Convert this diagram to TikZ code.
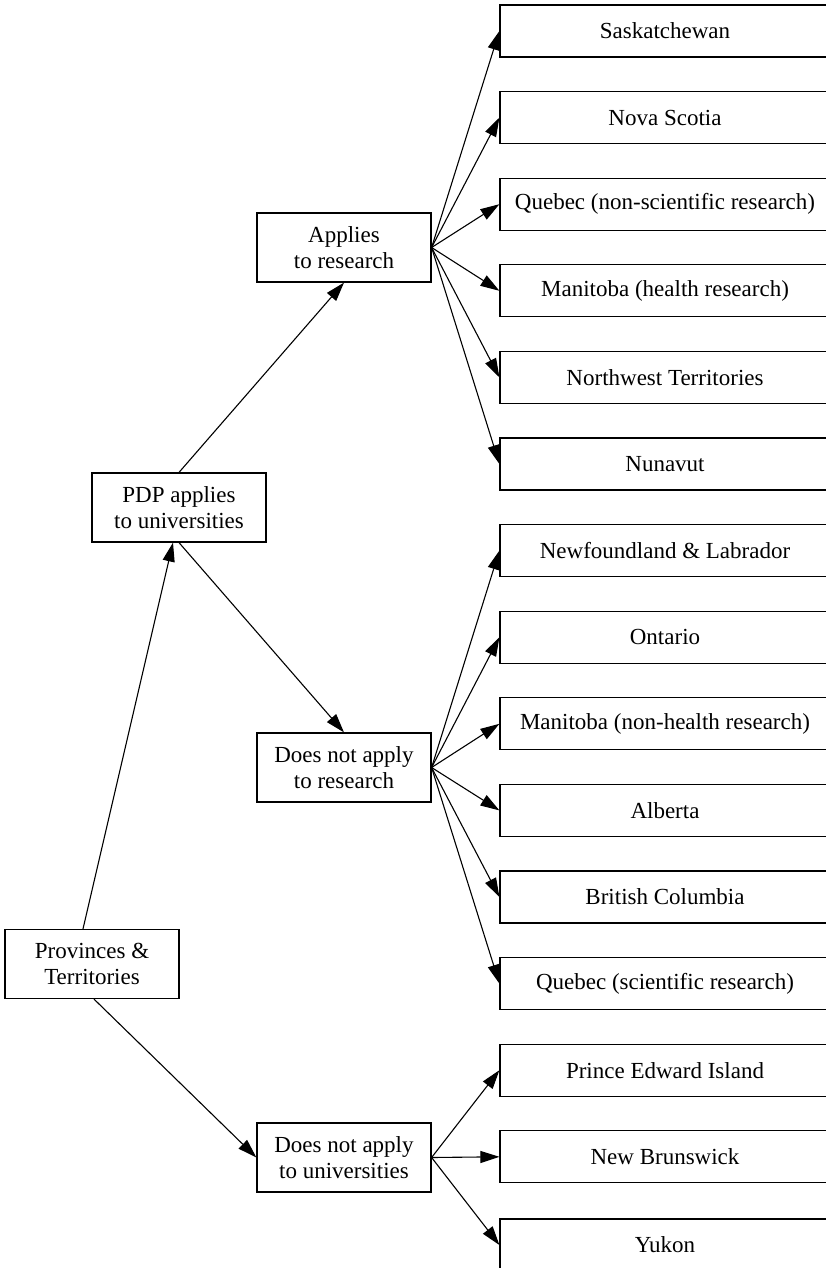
\documentclass[tikz,border=0pt]{standalone}
\usepackage{fontspec}
\setmainfont{Liberation Serif}
\usetikzlibrary{arrows.meta}
\begin{document}
\begin{tikzpicture}[x=1pt,y=-1pt,
  every node/.style={font=\fontsize{23}{26}\selectfont},
  leaf/.style={draw, line width=1.2pt, minimum width=330pt, minimum height=52pt, inner sep=0pt},
  mid/.style={draw, line width=1.2pt, minimum width=174pt, minimum height=69pt, inner sep=0pt, align=center},
  conn/.style={line width=1.1pt, -{Triangle[length=19pt,width=12pt]}}]
\useasboundingbox (0,0) rectangle (826,1268);
% middle / left boxes
\node[mid] (prov) at (92,964) {Provinces \&\\Territories};
\node[mid] (pdp) at (179,507.5) {PDP applies\\to universities};
\node[mid] (app) at (344,247.5) {Applies\\to research};
\node[mid] (dnar) at (344,767.5) {Does not apply\\to research};
\node[mid] (dnau) at (344,1157.5) {Does not apply\\to universities};
% leaves
\node[leaf] (l0) at (665,31) {Saskatchewan};
\node[leaf] (l1) at (665,117.6) {Nova Scotia};
\node[leaf] (l2) at (665,204.2) {Quebec (non-scientific research)};
\node[leaf] (l3) at (665,290.8) {Manitoba (health research)};
\node[leaf] (l4) at (665,377.4) {Northwest Territories};
\node[leaf] (l5) at (665,464) {Nunavut};
\node[leaf] (l6) at (665,550.6) {Newfoundland \& Labrador};
\node[leaf] (l7) at (665,637.2) {Ontario};
\node[leaf] (l8) at (665,723.8) {Manitoba (non-health research)};
\node[leaf] (l9) at (665,810.4) {Alberta};
\node[leaf] (l10) at (665,897) {British Columbia};
\node[leaf] (l11) at (665,983.6) {Quebec (scientific research)};
\node[leaf] (l12) at (665,1070.2) {Prince Edward Island};
\node[leaf] (l13) at (665,1156.8) {New Brunswick};
\node[leaf] (l14) at (665,1245) {Yukon};
% connectors
\draw[conn] ([xshift=-9pt]prov.north) -- ([xshift=-6pt]pdp.south);
\draw[conn] ([xshift=2pt]prov.south) -- (dnau.west);
\draw[conn] (pdp.north) -- (app.south);
\draw[conn] (pdp.south) -- (dnar.north);
\foreach \i in {0,...,5} \draw[conn] (app.east) -- (l\i.west);
\foreach \i in {6,...,11} \draw[conn] (dnar.east) -- (l\i.west);
\foreach \i in {12,...,14} \draw[conn] (dnau.east) -- (l\i.west);
\end{tikzpicture}
\end{document}
